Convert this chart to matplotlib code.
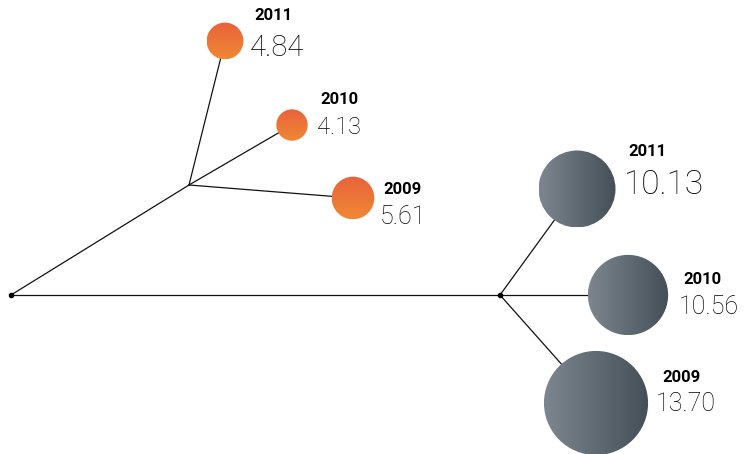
import numpy as np
import matplotlib.pyplot as plt
from matplotlib.patches import Circle

# data
years = ['2011', '2010', '2009']
orange_vals = [4.84, 4.13, 5.61]
grey_vals = [10.13, 10.56, 13.70]
labels_orange = ['4.84', '4.13', '5.61']
labels_grey = ['10.13', '10.56', '13.70']

# layout (pixel coordinates, y pointing down)
root = (11, 295)
orange_node = (189, 185)
grey_node = (500, 295)
orange_offsets = [(36, -144), (103, -60), (164, 13)]
grey_offsets = [(77, -106), (128, 0), (96, 108)]
orange_year_pos = [(254, 16), (320, 99), (383, 189)]
orange_val_pos = [(250, 48), (317, 127), (380, 217)]
grey_year_pos = [(628, 152), (683, 280), (662, 378)]
grey_val_pos = [(624, 185), (679, 307), (656, 404)]
orange_val_size = [21, 17, 18]
grey_val_size = [24, 18, 18]
R_SCALE = 3.8  # radius in px per unit

W, H = 754, 454
fig = plt.figure(figsize=(W / 100, H / 100), dpi=100)
ax = fig.add_axes([0, 0, 1, 1])
ax.set_xlim(0, W)
ax.set_ylim(H, 0)
ax.axis('off')

def gradient_circle(ax, center, r, c0, c1, direction):
    c0 = np.array(plt.matplotlib.colors.to_rgb(c0))
    c1 = np.array(plt.matplotlib.colors.to_rgb(c1))
    t = np.linspace(0, 1, 64)
    if direction == 'vertical':
        img = (c0[None, None, :] * (1 - t)[:, None, None] + c1[None, None, :] * t[:, None, None])
        img = np.repeat(img, 2, axis=1)
    else:
        img = (c0[None, None, :] * (1 - t)[None, :, None] + c1[None, None, :] * t[None, :, None])
        img = np.repeat(img, 2, axis=0)
    cx, cy = center
    circ = Circle(center, r, facecolor='none', edgecolor='none', zorder=3)
    ax.add_patch(circ)
    im = ax.imshow(img, extent=(cx - r, cx + r, cy + r, cy - r), origin='upper',
                   interpolation='bilinear', zorder=3, aspect='auto')
    im.set_clip_path(circ)

# trunk lines
ax.plot([root[0], orange_node[0]], [root[1], orange_node[1]], color='#111111', lw=0.9, zorder=1)
ax.plot([root[0], grey_node[0]], [root[1], grey_node[1]], color='#111111', lw=0.9, zorder=1)
ax.plot([root[0], grey_node[0]], [root[1], grey_node[1]], 'o', color='black', ms=3, zorder=2)

def branch(node, offsets, vals, labels, ypos, vpos, vsize, colors, direction):
    for i in range(len(vals)):
        cx, cy = node[0] + offsets[i][0], node[1] + offsets[i][1]
        ax.plot([node[0], cx], [node[1], cy], color='#111111', lw=0.9, zorder=1)
        gradient_circle(ax, (cx, cy), vals[i] * R_SCALE, colors[0], colors[1], direction)
        ax.text(ypos[i][0], ypos[i][1], years[i], fontsize=12, fontweight='bold',
                family='Roboto', ha='left', va='center', color='black')
        ax.text(vpos[i][0], vpos[i][1], labels[i], fontsize=vsize[i], fontweight='light',
                family='Roboto', ha='left', va='center', color='black')

branch(orange_node, orange_offsets, orange_vals, labels_orange, orange_year_pos,
       orange_val_pos, orange_val_size, ('#E8633B', '#F08834'), 'vertical')
branch(grey_node, grey_offsets, grey_vals, labels_grey, grey_year_pos,
       grey_val_pos, grey_val_size, ('#7D868E', '#444F58'), 'horizontal')

fig.savefig('out.png', dpi=100)
